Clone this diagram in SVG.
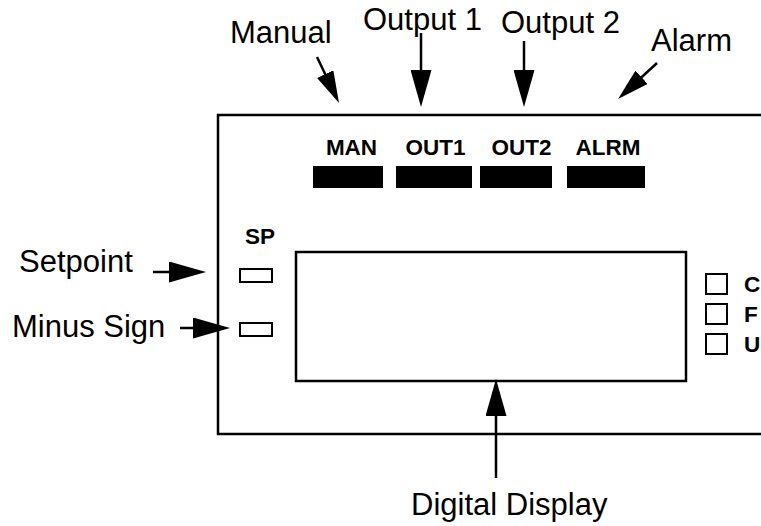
<svg xmlns="http://www.w3.org/2000/svg" width="761" height="526" viewBox="0 0 761 526">
<style>
.lbl{font-family:"Liberation Sans",Arial,sans-serif;font-size:31px;fill:#000}
.bld{font-family:"Liberation Sans",Arial,sans-serif;font-size:22.5px;font-weight:bold;fill:#000}
.ln{stroke:#000;stroke-width:2.5;fill:none}
.box{stroke:#000;stroke-width:2.5;fill:#fff}
.sm{stroke:#000;stroke-width:2;fill:#fff}
.bar{fill:#000}
</style>
<defs>
<marker id="ah" viewBox="0 0 37 21" refX="27" refY="10.5" markerWidth="37" markerHeight="21" markerUnits="userSpaceOnUse" orient="auto">
<path d="M0,0 L37,10.5 L0,21 z" fill="#000"/>
</marker>
<marker id="ahs" viewBox="0 0 32 18" refX="22" refY="9" markerWidth="32" markerHeight="18" markerUnits="userSpaceOnUse" orient="auto">
<path d="M0,0 L32,9 L0,18 z" fill="#000"/>
</marker>
</defs>
<rect width="761" height="526" fill="#fff"/>
<g id="housing">
<path class="ln" d="M761,115 H218 V434 H761"/>
</g>
<g id="display">
<rect class="box" x="296" y="252" width="390" height="129"/>
</g>
<g id="man">
<text class="bld" x="351.5" y="155" text-anchor="middle">MAN</text>
<rect class="bar" x="313" y="166" width="70" height="22"/>
</g>
<g id="out1">
<text class="bld" x="435.5" y="155" text-anchor="middle">OUT1</text>
<rect class="bar" x="396" y="166" width="76" height="22"/>
</g>
<g id="out2">
<text class="bld" x="521.5" y="155" text-anchor="middle">OUT2</text>
<rect class="bar" x="480" y="166" width="72" height="22"/>
</g>
<g id="alrm">
<text class="bld" x="608" y="155" text-anchor="middle">ALRM</text>
<rect class="bar" x="567" y="166" width="78" height="22"/>
</g>
<g id="sp">
<text class="bld" x="245" y="244">SP</text>
<rect class="sm" x="240" y="269" width="32" height="13"/>
</g>
<g id="minus">
<rect class="sm" x="240" y="323" width="32" height="13"/>
</g>
<g id="units">
<rect class="sm" x="706" y="274" width="21" height="20"/>
<text class="bld" x="744" y="292">C</text>
<rect class="sm" x="706" y="304" width="21" height="20"/>
<text class="bld" x="744" y="322">F</text>
<rect class="sm" x="706" y="334" width="21" height="20"/>
<text class="bld" x="744" y="352">U</text>
</g>
<g id="labels">
<text class="lbl" x="230" y="43">Manual</text>
<text class="lbl" x="363" y="30">Output 1</text>
<text class="lbl" x="501" y="33">Output 2</text>
<text class="lbl" x="651" y="51">Alarm</text>
<text class="lbl" x="19" y="272">Setpoint</text>
<text class="lbl" x="12" y="337">Minus Sign</text>
<text class="lbl" x="411" y="515">Digital Display</text>
</g>
<g id="connectors">
<line class="ln" x1="317" y1="57" x2="334.7" y2="94" marker-end="url(#ahs)"/>
<line class="ln" x1="421" y1="33" x2="421" y2="97" marker-end="url(#ah)"/>
<line class="ln" x1="524" y1="41" x2="524" y2="97" marker-end="url(#ah)"/>
<line class="ln" x1="657" y1="63" x2="625.4" y2="92.2" marker-end="url(#ahs)"/>
<line class="ln" x1="153" y1="272" x2="196" y2="272" marker-end="url(#ah)"/>
<line class="ln" x1="180" y1="328" x2="220" y2="328" marker-end="url(#ah)"/>
<line class="ln" x1="496" y1="478" x2="496" y2="389" marker-end="url(#ah)"/>
</g>
</svg>
